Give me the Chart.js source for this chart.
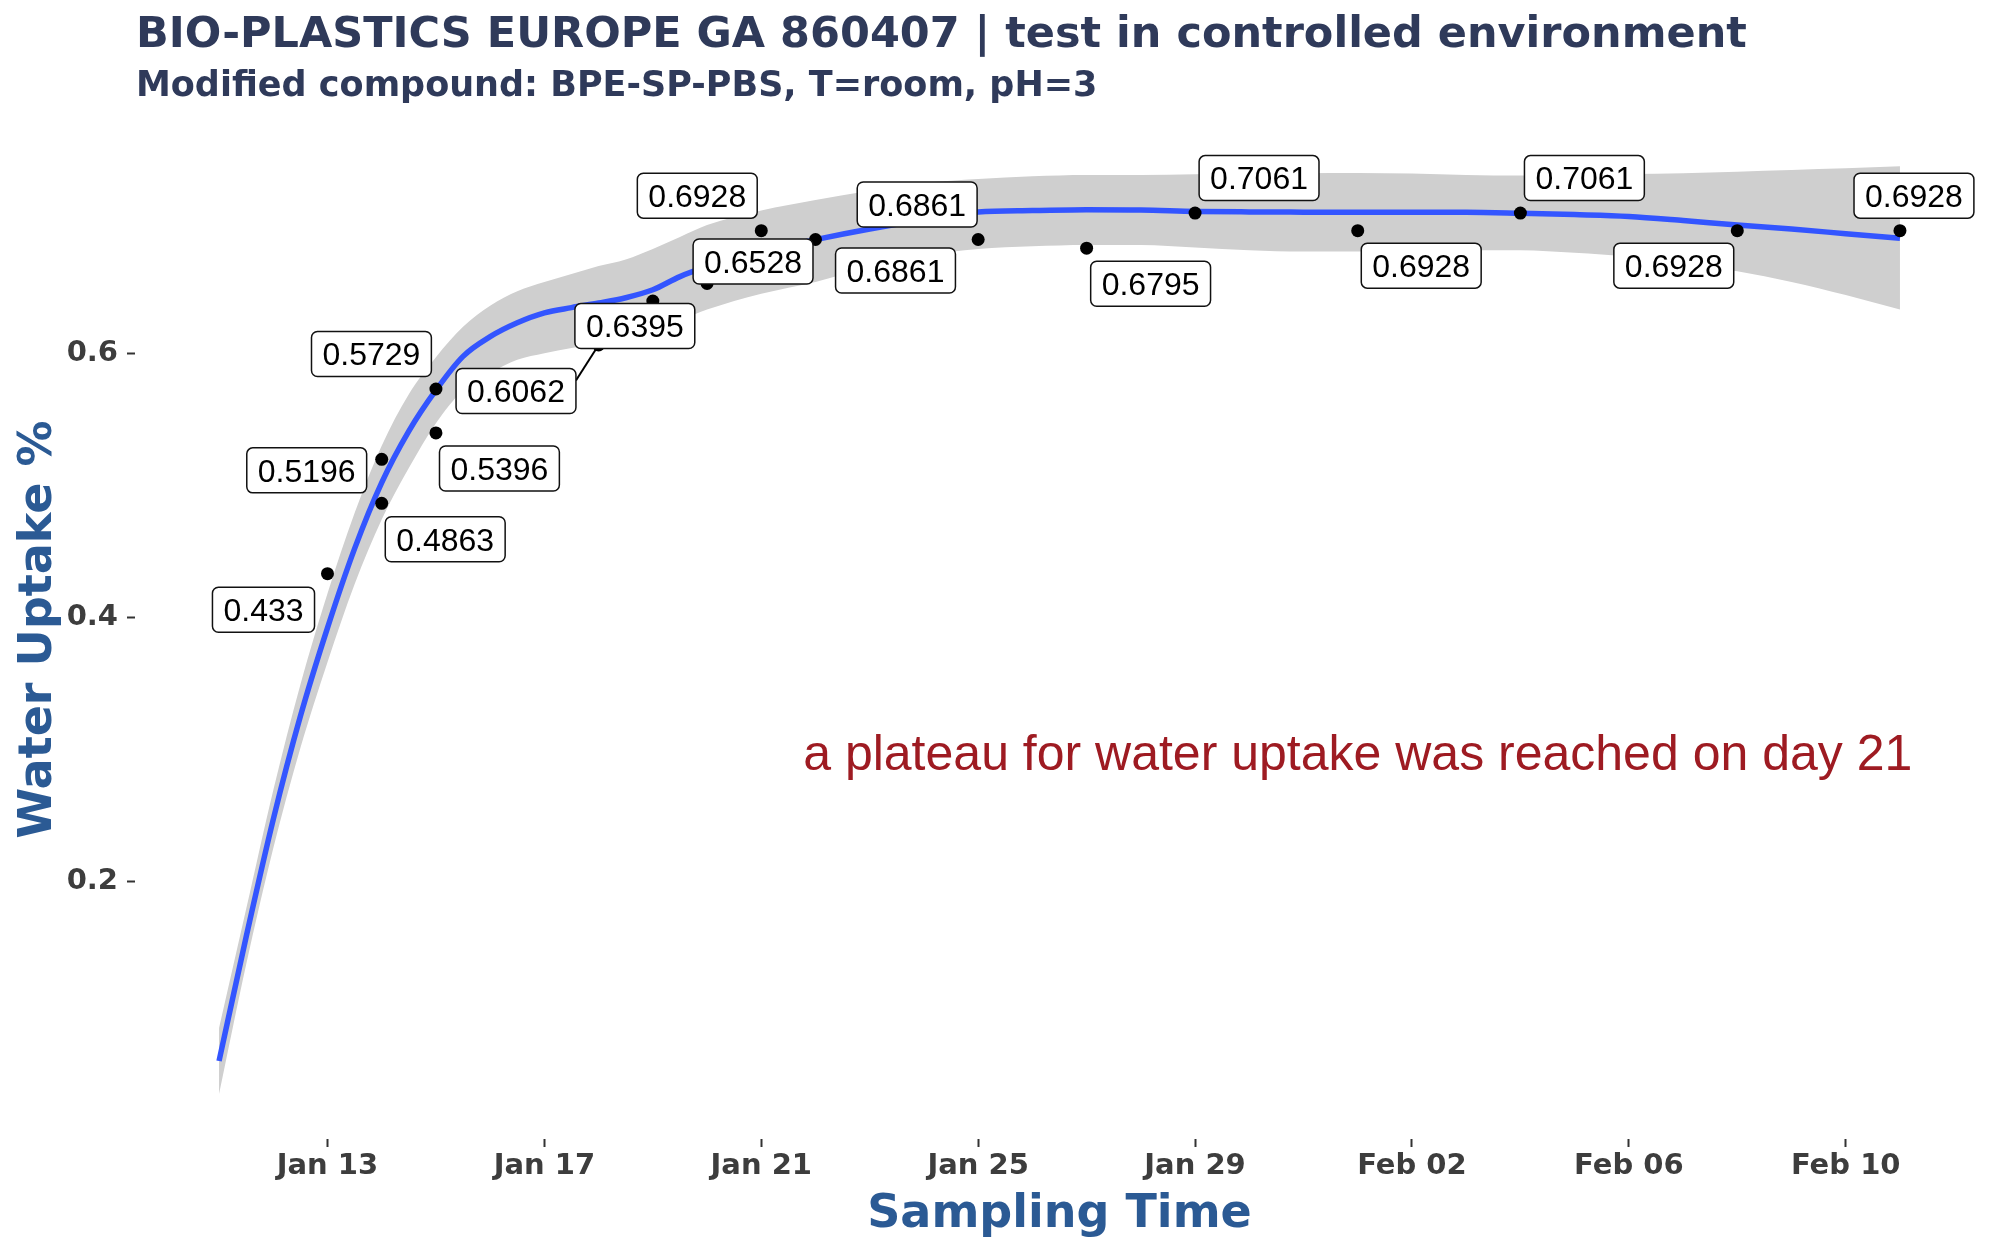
<!DOCTYPE html>
<html><head><meta charset="utf-8">
<script src="https://cdn.jsdelivr.net/npm/chart.js@4.4.1/dist/chart.umd.min.js"></script>
<style>html,body{margin:0;padding:0;background:#fff}#wrap{width:2000px;height:1250px}</style>
</head><body><div id="wrap"><canvas id="c" width="2000" height="1250"></canvas></div>
<script>
// ---- data (x = day of year: Jan 1 = 1, Feb 1 = 32) ----
const obsDays   = [13, 14, 14, 15, 15, 18, 19, 20, 21, 22, 25, 27, 29, 32, 35, 39, 42];
const obsValues = [0.433, 0.5196, 0.4863, 0.5729, 0.5396, 0.6062, 0.6395, 0.6528, 0.6928, 0.6861, 0.6861, 0.6795, 0.7061, 0.6928, 0.7061, 0.6928, 0.6928];
const obsLabels = ['0.433','0.5196','0.4863','0.5729','0.5396','0.6062','0.6395','0.6528','0.6928','0.6861','0.6861','0.6795','0.7061','0.6928','0.7061','0.6928','0.6928'];

const fitDays   = [11, 11.5, 12, 12.5, 13, 13.5, 14, 14.5, 15, 15.5, 16, 16.5, 17, 17.5, 18, 18.5, 19, 19.5, 20, 21, 22, 23, 24, 25, 26, 27, 28, 29, 30, 31, 32, 33, 34, 35, 36, 37, 38, 39, 40, 41, 42];
const fitValues = [0.064, 0.158, 0.247, 0.325, 0.392, 0.452, 0.502, 0.541, 0.572, 0.5976, 0.6125, 0.623, 0.6305, 0.6345, 0.638, 0.642, 0.648, 0.658, 0.6655, 0.677, 0.686, 0.694, 0.701, 0.707, 0.708, 0.7087, 0.7085, 0.7074, 0.707, 0.7068, 0.7067, 0.7067, 0.7067, 0.706, 0.705, 0.7036, 0.7005, 0.697, 0.694, 0.6905, 0.687];
const fitUpper  = [0.089, 0.179, 0.269, 0.349, 0.418, 0.479, 0.530, 0.569, 0.597, 0.620, 0.636, 0.647, 0.654, 0.660, 0.666, 0.671, 0.679, 0.688, 0.697, 0.708, 0.716, 0.723, 0.729, 0.732, 0.734, 0.735, 0.735, 0.7355, 0.736, 0.7363, 0.7365, 0.736, 0.735, 0.7345, 0.735, 0.7357, 0.7363, 0.7375, 0.7388, 0.740, 0.7415];
const fitLower  = [0.039, 0.137, 0.225, 0.301, 0.366, 0.425, 0.474, 0.513, 0.547, 0.572, 0.585, 0.595, 0.600, 0.604, 0.607, 0.612, 0.618, 0.625, 0.633, 0.645, 0.654, 0.665, 0.674, 0.679, 0.681, 0.682, 0.682, 0.680, 0.678, 0.677, 0.677, 0.678, 0.678, 0.678, 0.676, 0.673, 0.668, 0.662, 0.654, 0.644, 0.633];

const xTickValues = [13, 17, 21, 25, 29, 33, 37, 41];
const xTickLabels = ['Jan 13', 'Jan 17', 'Jan 21', 'Jan 25', 'Jan 29', 'Feb 02', 'Feb 06', 'Feb 10'];
const yTickValues = [0.2, 0.4, 0.6];

const titleText    = 'BIO-PLASTICS EUROPE GA 860407 | test in controlled environment';
const subtitleText = 'Modified compound: BPE-SP-PBS, T=room, pH=3';
const xTitleText   = 'Sampling Time';
const yTitleText   = 'Water Uptake %';
const noteText     = 'a plateau for water uptake was reached on day 21';
const noteX = 32, noteY = 0.3;

// ---- label placement (pixel offsets of label box centre from its point) ----
const labelOffsets = [[-64,36],[-75,11],[63.5,36],[-64.5,-35],[63.5,35.5],[-82.6,46],[-18,25],[46,-22],[-64,-35],[80,31],[-61,-35],[64,35.6],[64,-35],[63.5,35],[64,-35],[-63.5,35],[14,-35]];
const labelSegment = [false,false,false,false,false,true,false,false,false,false,false,false,false,false,false,false,false];

const pts = (xs, ys) => xs.map((d, i) => ({x: d, y: ys[i]}));

const textPlugin = {
  id: 'texts',
  afterDatasetsDraw(chart) {
    const {ctx, scales: {x, y}} = chart;
    ctx.save();
    ctx.font = "32px 'Liberation Sans', Arial, sans-serif";
    obsDays.forEach((d, i) => {
      const px = x.getPixelForValue(d), py = y.getPixelForValue(obsValues[i]);
      const [dx, dy] = labelOffsets[i];
      const txt = obsLabels[i];
      const w = ctx.measureText(txt).width + 22, h = 45;
      const cx = px + dx, cy = py + dy;
      const l = cx - w / 2, t = cy - h / 2;
      if (labelSegment[i]) {
        const qx = Math.max(l, Math.min(px, l + w));
        const qy = Math.max(t + 12, Math.min(py, t + h));
        ctx.beginPath(); ctx.moveTo(px, py); ctx.lineTo(qx, qy);
        ctx.lineWidth = 2; ctx.strokeStyle = '#000'; ctx.stroke();
      }
      ctx.beginPath(); ctx.roundRect(l, t, w, h, 6);
      ctx.fillStyle = '#fff'; ctx.fill();
      ctx.lineWidth = 1.5; ctx.strokeStyle = '#111'; ctx.stroke();
      ctx.fillStyle = '#000'; ctx.textAlign = 'center'; ctx.textBaseline = 'alphabetic';
      ctx.fillText(txt, cx, cy + 11.4);
    });
    // annotation
    ctx.font = "50px 'Liberation Sans', Arial, sans-serif";
    ctx.fillStyle = '#9E1B22'; ctx.textAlign = 'center'; ctx.textBaseline = 'alphabetic';
    ctx.fillText(noteText, x.getPixelForValue(noteX), y.getPixelForValue(noteY) + 20.5);
    ctx.restore();
  },
  afterDraw(chart) {
    const {ctx, chartArea: a} = chart;
    ctx.save();
    ctx.textBaseline = 'alphabetic';
    ctx.fillStyle = '#2F3A5A';
    ctx.textAlign = 'left';
    ctx.font = "bold 43px 'DejaVu Sans', Verdana, sans-serif";
    ctx.fillText(titleText, a.left + 1, 47);
    ctx.font = "bold 35px 'DejaVu Sans', Verdana, sans-serif";
    ctx.fillText(subtitleText, a.left + 1, 96);
    ctx.fillStyle = '#2B5A94';
    ctx.textAlign = 'center';
    ctx.font = "bold 46px 'DejaVu Sans', Verdana, sans-serif";
    ctx.fillText(xTitleText, (a.left + a.right) / 2, 1227);
    ctx.translate(51, (a.top + a.bottom) / 2);
    ctx.rotate(-Math.PI / 2);
    ctx.fillText(yTitleText, 0, 0);
    ctx.restore();
  }
};

const tickFont = {family: "'DejaVu Sans', Verdana, sans-serif", weight: 'bold', size: 29};

new Chart(document.getElementById('c'), {
  type: 'line',
  data: {
    datasets: [
      {data: pts(fitDays, fitUpper), borderWidth: 0, borderColor: 'rgba(0,0,0,0)', pointRadius: 0, fill: false, cubicInterpolationMode: 'monotone', order: 3},
      {data: pts(fitDays, fitLower), borderWidth: 0, borderColor: 'rgba(0,0,0,0)', pointRadius: 0, fill: '-1', backgroundColor: '#cfcfcf', cubicInterpolationMode: 'monotone', order: 2},
      {data: pts(fitDays, fitValues), borderColor: '#3355FF', borderWidth: 5.5, pointRadius: 0, fill: false, cubicInterpolationMode: 'monotone', order: 1},
      {data: pts(obsDays, obsValues), showLine: false, pointRadius: 6.5, pointBackgroundColor: '#000', pointBorderWidth: 0, order: 0}
    ]
  },
  options: {
    responsive: false,
    devicePixelRatio: 1,
    animation: false,
    events: [],
    layout: {padding: {top: 120, right: 16, bottom: 0, left: 0}},
    plugins: {legend: {display: false}, title: {display: false}, tooltip: {enabled: false}},
    scales: {
      x: {
        type: 'linear', min: 9.45, max: 43.55,
        afterBuildTicks: s => { s.ticks = xTickValues.map(v => ({value: v})); },
        afterFit: s => { s.height = 111; },
        ticks: {autoSkip: false, maxRotation: 0, padding: 2, color: '#3d3d3d', font: tickFont,
                callback: v => { const k = xTickValues.indexOf(v); return k >= 0 ? xTickLabels[k] : ''; }},
        grid: {display: true, drawOnChartArea: false, drawTicks: true, tickLength: 8, tickColor: '#333', tickWidth: 2},
        border: {display: false}
      },
      y: {
        type: 'linear', min: 0.0049, max: 0.7766,
        afterBuildTicks: s => { s.ticks = yTickValues.map(v => ({value: v})); },
        afterFit: s => { s.width = 135; },
        ticks: {autoSkip: false, padding: 9, color: '#3d3d3d', font: tickFont, callback: v => v.toFixed(1)},
        grid: {display: true, drawOnChartArea: false, drawTicks: true, tickLength: 8, tickColor: '#333', tickWidth: 2},
        border: {display: false}
      }
    }
  },
  plugins: [textPlugin]
});
</script>
</body></html>
